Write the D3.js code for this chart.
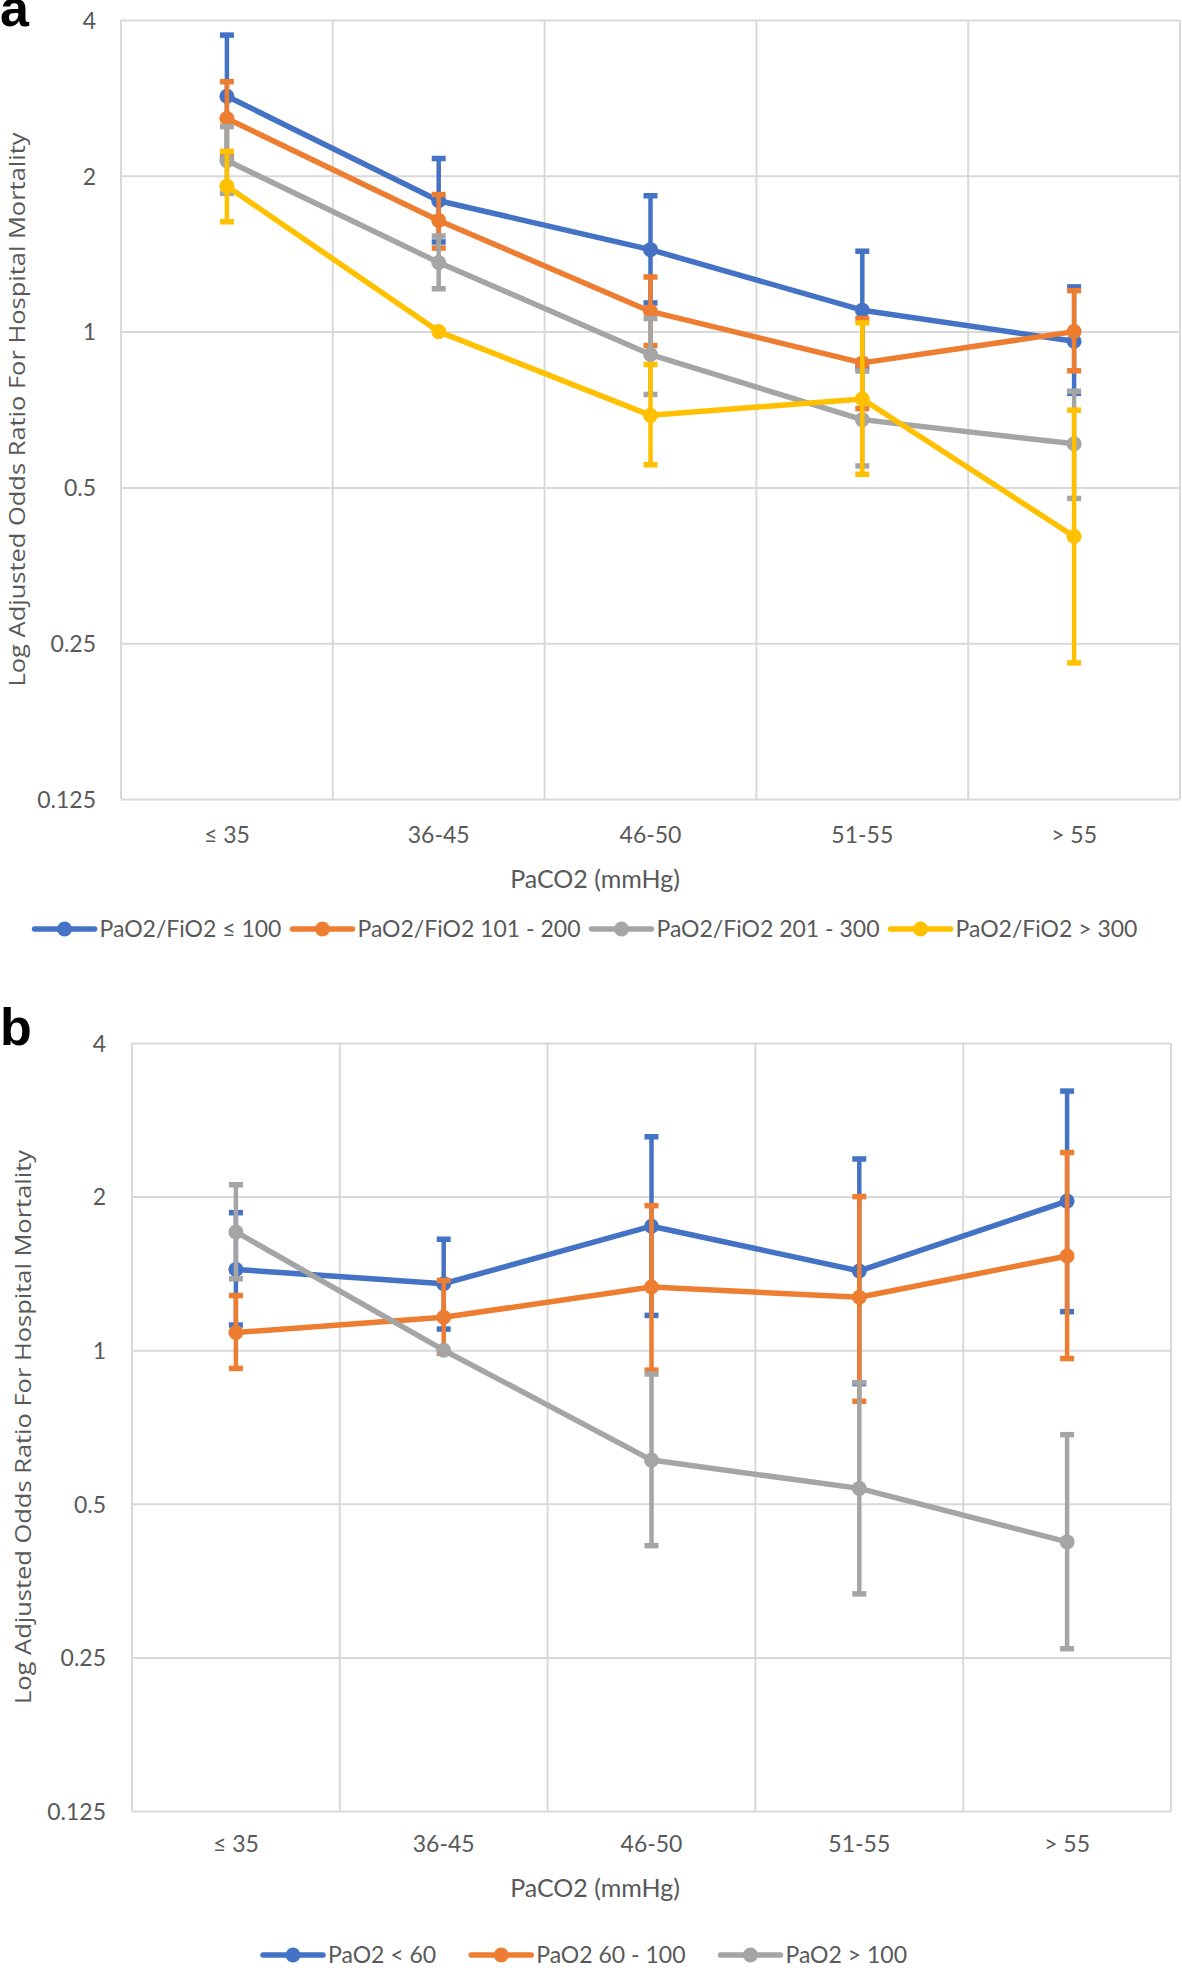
<!DOCTYPE html>
<html><head><meta charset="utf-8">
<script src="https://cdn.jsdelivr.net/npm/d3@7"></script>
<style>body{margin:0;background:#fff}svg{display:block}</style>
</head><body>
<svg id="chart" width="1182" height="1970"></svg>
<script>
// ---- data ----
const categories = ["≤ 35", "36-45", "46-50", "51-55", "> 55"];
const yTicks = [0.125, 0.25, 0.5, 1, 2, 4];
const colors = ["#4472C4", "#ED7D31", "#A5A5A5", "#FFC000"];

// Panel a: PaO2/FiO2 groups
const seriesNamesA = ["PaO2/FiO2 ≤ 100", "PaO2/FiO2 101 - 200", "PaO2/FiO2 201 - 300", "PaO2/FiO2 > 300"];
const a_le100_or = [2.85, 1.79, 1.44, 1.10, 0.958];
const a_le100_lo = [2.17, 1.49, 1.136, 0.85, 0.76];
const a_le100_hi = [3.74, 2.16, 1.83, 1.43, 1.22];
const a_101_200_or = [2.58, 1.64, 1.094, 0.87, 1.0];
const a_101_200_lo = [2.19, 1.45, 0.94, 0.71, 0.84];
const a_101_200_hi = [3.04, 1.84, 1.275, 1.06, 1.20];
const a_201_300_or = [2.14, 1.36, 0.903, 0.676, 0.607];
const a_201_300_lo = [1.85, 1.21, 0.756, 0.55, 0.476];
const a_201_300_hi = [2.49, 1.53, 1.06, 0.839, 0.767];
const a_gt300_or = [1.91, 1.0, 0.689, 0.741, 0.402];
const a_gt300_lo = [1.63, null, 0.553, 0.53, 0.229];
const a_gt300_hi = [2.23, null, 0.864, 1.04, 0.705];

// Panel b: PaO2 groups
const seriesNamesB = ["PaO2 < 60", "PaO2 60 - 100", "PaO2 > 100"];
const b_lt60_or = [1.44, 1.35, 1.75, 1.43, 1.96];
const b_lt60_lo = [1.12, 1.10, 1.17, 0.86, 1.19];
const b_lt60_hi = [1.86, 1.65, 2.62, 2.37, 3.22];
const b_60_100_or = [1.083, 1.16, 1.33, 1.27, 1.53];
const b_60_100_lo = [0.921, 0.986, 0.914, 0.794, 0.963];
const b_60_100_hi = [1.28, 1.37, 1.92, 2.0, 2.44];
const b_gt100_or = [1.705, 1.0, 0.609, 0.536, 0.421];
const b_gt100_lo = [1.38, null, 0.414, 0.333, 0.26];
const b_gt100_hi = [2.11, null, 0.898, 0.864, 0.683];

const yTitle = "Log Adjusted Odds Ratio For Hospital Mortality";
const xTitle = "PaCO2 (mmHg)";

// ---- drawing ----
const svg = d3.select("#chart");
svg.append("rect").attr("width", 1182).attr("height", 1970).attr("fill", "#fff");
const tickFont = "Lato, 'Liberation Sans', sans-serif";
const textColor = "#595959";
const gridColor = "#D9D9D9";

function drawPanel(cfg) {
  const g = svg.append("g");
  const x = d3.scaleBand().domain(categories).range([cfg.left, cfg.right]);
  const y = d3.scaleLog().base(2).domain([0.125, 4]).range([cfg.bottom, cfg.top]);

  // horizontal grid via axis
  const yAxis = g.append("g").attr("transform", `translate(${cfg.left},0)`)
    .call(d3.axisLeft(y).tickValues(yTicks).tickFormat(d => String(d))
      .tickSize(-(cfg.right - cfg.left)).tickPadding(cfg.yTickPad));
  yAxis.select(".domain").remove();
  yAxis.selectAll(".tick line").attr("stroke", gridColor).attr("stroke-width", 2);
  yAxis.selectAll(".tick text").attr("font-family", tickFont).attr("font-size", 23)
    .attr("fill", textColor).attr("dy", "0.36em");

  // vertical grid (band boundaries)
  const bounds = categories.map(c => x(c)).concat([cfg.right]);
  g.append("g").selectAll("line").data(bounds).join("line")
    .attr("x1", d => d).attr("x2", d => d)
    .attr("y1", cfg.top).attr("y2", cfg.bottom)
    .attr("stroke", gridColor).attr("stroke-width", 2);

  // x tick labels via axis
  const xAxis = g.append("g").attr("transform", `translate(0,${cfg.bottom})`)
    .call(d3.axisBottom(x).tickSize(0).tickPadding(cfg.xTickPad));
  xAxis.select(".domain").remove();
  xAxis.selectAll(".tick text").attr("font-family", tickFont).attr("font-size", 23)
    .attr("fill", textColor).attr("dy", "0.36em");

  // titles
  g.append("text").attr("x", 595).attr("y", cfg.xTitleY).attr("text-anchor", "middle")
    .attr("dominant-baseline", "central")
    .attr("font-family", tickFont).attr("font-size", 25).attr("fill", textColor).text(xTitle);
  const cy = (cfg.top + cfg.bottom) / 2;
  g.append("text").attr("transform", `translate(${cfg.yTitleX},${cy}) rotate(-90)`)
    .attr("text-anchor", "middle").attr("dominant-baseline", "central")
    .attr("font-family", "'Open Sans', 'Noto Sans', sans-serif").attr("font-size", 22)
    .attr("textLength", 554).attr("lengthAdjust", "spacingAndGlyphs")
    .attr("fill", textColor).text(yTitle);

  // panel letter
  g.append("text").attr("x", 0).attr("y", cfg.letterY)
    .attr("font-family", "'Liberation Sans', Arial, sans-serif").attr("font-weight", "bold")
    .attr("font-size", 52).attr("fill", "#000").text(cfg.letter);

  // series
  const cx = c => x(c) + x.bandwidth() / 2;
  cfg.series.forEach((s, si) => {
    const col = colors[si];
    const pts = categories.map((c, i) => ({c, v: s.or[i], lo: s.lo[i], hi: s.hi[i]}));
    const sg = g.append("g");
    const eb = pts.filter(p => p.lo != null && p.hi != null);
    sg.selectAll("line.err").data(eb).join("line").attr("class", "err")
      .attr("x1", p => cx(p.c)).attr("x2", p => cx(p.c))
      .attr("y1", p => y(p.lo)).attr("y2", p => y(p.hi))
      .attr("stroke", col).attr("stroke-width", 4.5);
    const caps = eb.flatMap(p => [{c: p.c, v: p.lo}, {c: p.c, v: p.hi}]);
    sg.selectAll("line.cap").data(caps).join("line").attr("class", "cap")
      .attr("x1", p => cx(p.c) - 7).attr("x2", p => cx(p.c) + 7)
      .attr("y1", p => y(p.v)).attr("y2", p => y(p.v))
      .attr("stroke", col).attr("stroke-width", 5.5);
    sg.append("path").datum(pts)
      .attr("d", d3.line().x(p => cx(p.c)).y(p => y(p.v)))
      .attr("fill", "none").attr("stroke", col).attr("stroke-width", 5.5)
      .attr("stroke-linejoin", "round");
    sg.selectAll("circle").data(pts).join("circle")
      .attr("cx", p => cx(p.c)).attr("cy", p => y(p.v)).attr("r", 7.5).attr("fill", col);
  });

  // legend
  const lg = g.append("g");
  const items = cfg.names.map((n, i) => ({n, col: colors[i]}));
  let xpos = 0;
  const ig = lg.selectAll("g").data(items).join("g");
  ig.append("line").attr("x1", 0).attr("x2", 60).attr("y1", 0).attr("y2", 0)
    .attr("stroke", d => d.col).attr("stroke-width", 5.5).attr("stroke-linecap", "round");
  ig.append("circle").attr("cx", 30).attr("cy", 0).attr("r", 7.5).attr("fill", d => d.col);
  ig.append("text").attr("x", 65).attr("y", 0).attr("dy", "0.36em")
    .attr("font-family", tickFont).attr("font-size", 23).attr("fill", textColor).text(d => d.n);
  ig.each(function() {
    const w = 65 + d3.select(this).select("text").node().getComputedTextLength();
    d3.select(this).attr("transform", `translate(${xpos},0)`);
    xpos += w + cfg.legendGap;
  });
  const total = xpos - cfg.legendGap;
  lg.attr("transform", `translate(${cfg.legendCx - total / 2},${cfg.legendY})`);
}

drawPanel({
  letter: "a", letterY: 26,
  left: 121, right: 1180, top: 20, bottom: 799,
  yTickPad: 25, xTickPad: 36, xTitleY: 878, yTitleX: 16,
  legendY: 929, legendCx: 586, legendGap: 11,
  names: seriesNamesA,
  series: [
    {or: a_le100_or, lo: a_le100_lo, hi: a_le100_hi},
    {or: a_101_200_or, lo: a_101_200_lo, hi: a_101_200_hi},
    {or: a_201_300_or, lo: a_201_300_lo, hi: a_201_300_hi},
    {or: a_gt300_or, lo: a_gt300_lo, hi: a_gt300_hi}
  ]
});
drawPanel({
  letter: "b", letterY: 1045,
  left: 132, right: 1171, top: 1043, bottom: 1811,
  yTickPad: 26, xTickPad: 33, xTitleY: 1887, yTitleX: 22,
  legendY: 1955, legendCx: 585, legendGap: 35,
  names: seriesNamesB,
  series: [
    {or: b_lt60_or, lo: b_lt60_lo, hi: b_lt60_hi},
    {or: b_60_100_or, lo: b_60_100_lo, hi: b_60_100_hi},
    {or: b_gt100_or, lo: b_gt100_lo, hi: b_gt100_hi}
  ]
});
</script>
</body></html>
